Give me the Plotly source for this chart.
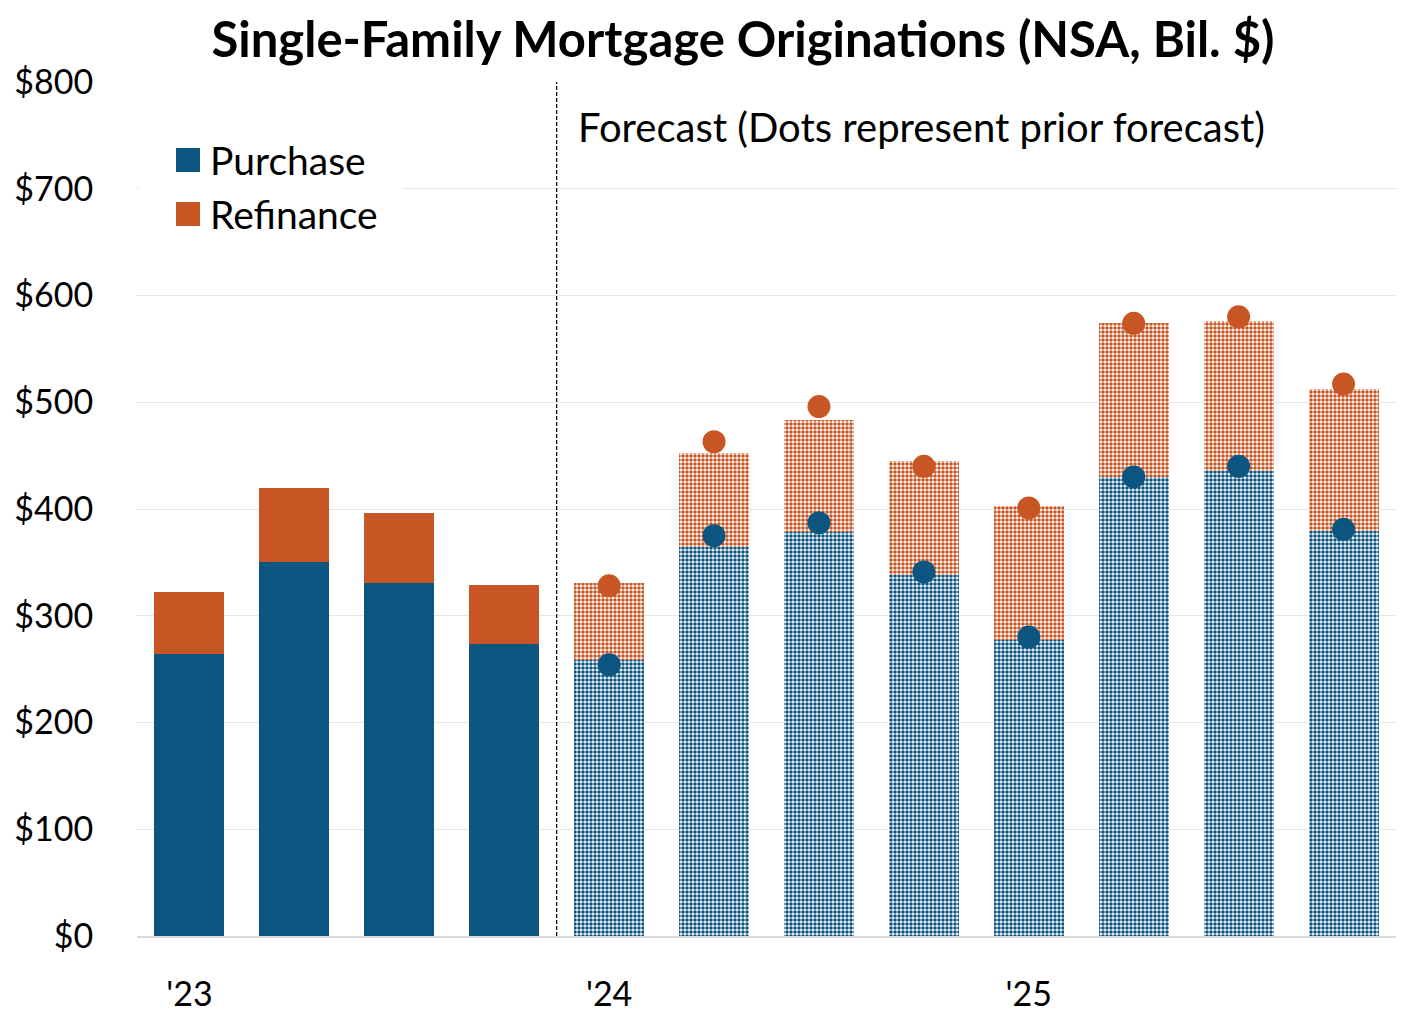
import plotly.graph_objects as go

quarters = ["2023Q1", "2023Q2", "2023Q3", "2023Q4",
            "2024Q1", "2024Q2", "2024Q3", "2024Q4",
            "2025Q1", "2025Q2", "2025Q3", "2025Q4"]
purchase = [264, 350, 331, 274, 259, 364, 378, 338, 277, 430, 436, 379]
refinance = [58, 70, 65, 55, 72, 88, 105, 107, 126, 144, 140, 133]
n_actual = 4

prior_purchase = [254, 375, 387, 341, 280, 430, 440, 381]
prior_total = [328, 463, 496, 440, 401, 574, 580, 517]

tick_vals = ["2023Q1", "2024Q1", "2025Q1"]
tick_text = ["'23", "'24", "'25"]
legend_names = ["Purchase", "Refinance"]

BLUE = "#0B5580"
ORANGE = "#C75624"
FONT = "Lato"

hist_q = quarters[:n_actual]
fc_q = quarters[n_actual:]

def pat(c):
    return dict(shape=".", fgcolor=c, bgcolor="white", size=4, solidity=0.62, fillmode="replace")

fig = go.Figure()
fig.add_trace(go.Bar(x=hist_q, y=purchase[:n_actual], name="Purchase", showlegend=False,
                     marker=dict(color=BLUE, line=dict(width=0))))
fig.add_trace(go.Bar(x=fc_q, y=purchase[n_actual:], name="Purchase fc", showlegend=False,
                     marker=dict(color="white", line=dict(width=0), pattern=pat(BLUE))))
fig.add_trace(go.Bar(x=hist_q, y=refinance[:n_actual], name="Refinance", showlegend=False,
                     marker=dict(color=ORANGE, line=dict(width=0))))
fig.add_trace(go.Bar(x=fc_q, y=refinance[n_actual:], name="Refinance fc", showlegend=False,
                     marker=dict(color="white", line=dict(width=0), pattern=pat(ORANGE))))
fig.add_trace(go.Scatter(x=fc_q, y=prior_purchase, mode="markers", showlegend=False,
                         marker=dict(color=BLUE, size=23, line=dict(width=0))))
fig.add_trace(go.Scatter(x=fc_q, y=prior_total, mode="markers", showlegend=False,
                         marker=dict(color=ORANGE, size=23, line=dict(width=0))))

fig.add_shape(type="line", xref="x", yref="y", x0=3.5, x1=3.5, y0=0, y1=800,
              line=dict(color="black", width=1.2, dash="4px,2px"))

fig.add_annotation(text="Forecast (Dots represent prior forecast)", xref="x", yref="y",
                   x=3.68, y=758, xanchor="left", yanchor="middle", showarrow=False,
                   font=dict(family=FONT, size=40, color="black"))

OFF = 8
W, H = 1420 - OFF, 1030 - OFF
PL, PR, PT, PB = 137, 1396, 82, 936

def cx(xp):  # container coords
    return (xp - OFF) / W

def cy(yp):
    return 1 - (yp - OFF) / H

def px(xp):  # plot-area paper coords
    return (xp - PL) / (PR - PL)

def py(yp):
    return (PB - yp) / (PB - PT)

# manual legend (white box over gridline, square swatches, labels)
fig.add_shape(type="rect", xref="paper", yref="paper", x0=px(140), x1=px(402),
              y0=py(240), y1=py(132), fillcolor="white", line=dict(width=0), layer="above")
for name, col, yc in zip(legend_names, [BLUE, ORANGE], [160, 214]):
    fig.add_shape(type="rect", xref="paper", yref="paper", x0=px(176), x1=px(200),
                  y0=py(yc + 12), y1=py(yc - 12), fillcolor=col, line=dict(width=0), layer="above")
    fig.add_annotation(text=name, xref="paper", yref="paper", x=px(208), y=py(yc),
                       xanchor="left", yanchor="middle", showarrow=False,
                       font=dict(family=FONT, size=39, color="black"))

fig.update_layout(
    width=W, height=H,
    margin=dict(l=PL - OFF, r=W + OFF - PR, t=PT - OFF, b=H + OFF - PB, autoexpand=False),
    paper_bgcolor="white", plot_bgcolor="white",
    barmode="stack", bargap=1/3,
    font=dict(family=FONT, size=34, color="black"),
    title=dict(text="<b>Single-Family Mortgage Originations (NSA, Bil. $)</b>",
               x=cx(743), xanchor="center", y=cy(40), yanchor="middle",
               font=dict(family=FONT, size=49, color="black")),
    showlegend=False,
)
fig.update_xaxes(type="category", categoryorder="array", categoryarray=quarters,
                 range=[-0.5, 11.5], tickmode="array", tickvals=tick_vals, ticktext=tick_text,
                 showgrid=False, showline=True, linecolor="#d9d9d9", linewidth=2,
                 ticks="outside", ticklen=27, tickcolor="rgba(0,0,0,0)",
                 tickfont=dict(family=FONT, size=34), automargin=False)
fig.update_yaxes(range=[0, 800], dtick=100, tickprefix="$", showgrid=True,
                 gridcolor="#e6e6e6", gridwidth=1, zeroline=False,
                 ticks="outside", ticklen=36, tickcolor="rgba(0,0,0,0)",
                 tickfont=dict(family=FONT, size=34), automargin=False)

fig.write_html("out.html")
